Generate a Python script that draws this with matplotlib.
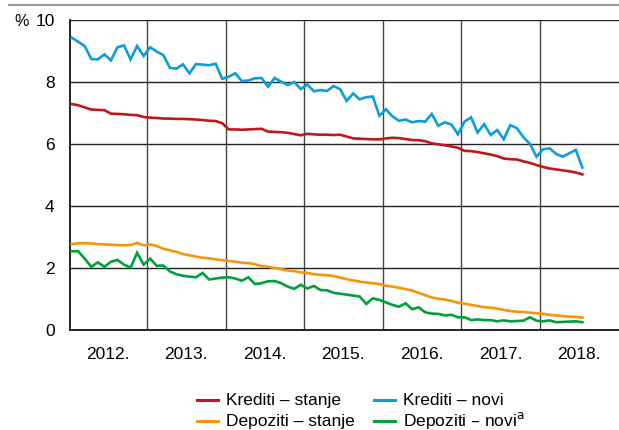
import numpy as np
import matplotlib
matplotlib.use("Agg")
import matplotlib.pyplot as plt
from matplotlib.lines import Line2D

plt.rcParams['font.family'] = ['Liberation Sans', 'DejaVu Sans']

# monthly series, Jan 2012 - Jul 2018 (%)
krediti_stanje = [7.29, 7.25, 7.18, 7.11, 7.10, 7.09, 6.98, 6.97, 6.96, 6.94, 6.93, 6.87,
                  6.85, 6.84, 6.82, 6.82, 6.81, 6.81, 6.80, 6.79, 6.77, 6.75, 6.74, 6.67,
                  6.47, 6.47, 6.46, 6.47, 6.48, 6.49, 6.40, 6.39, 6.38, 6.36, 6.32, 6.28,
                  6.33, 6.31, 6.30, 6.30, 6.29, 6.30, 6.24, 6.18, 6.17, 6.16, 6.15, 6.15,
                  6.18, 6.20, 6.19, 6.16, 6.13, 6.12, 6.09, 6.02, 5.99, 5.96, 5.92, 5.88,
                  5.78, 5.77, 5.74, 5.70, 5.66, 5.61, 5.53, 5.51, 5.50, 5.44, 5.39, 5.32,
                  5.26, 5.21, 5.18, 5.15, 5.12, 5.08, 5.02]
krediti_novi = [9.43, 9.30, 9.16, 8.74, 8.73, 8.89, 8.70, 9.12, 9.18, 8.73, 9.16, 8.84,
                9.12, 8.98, 8.87, 8.46, 8.43, 8.57, 8.28, 8.58, 8.56, 8.54, 8.59, 8.10,
                8.17, 8.28, 8.03, 8.05, 8.12, 8.13, 7.85, 8.13, 8.01, 7.90, 8.00, 7.77,
                7.92, 7.70, 7.74, 7.71, 7.87, 7.77, 7.39, 7.63, 7.44, 7.51, 7.53, 6.91,
                7.12, 6.89, 6.75, 6.79, 6.70, 6.74, 6.72, 6.97, 6.59, 6.70, 6.63, 6.31,
                6.72, 6.86, 6.37, 6.64, 6.29, 6.45, 6.15, 6.61, 6.51, 6.22, 6.00, 5.59,
                5.83, 5.86, 5.68, 5.59, 5.70, 5.81, 5.24]
depoziti_stanje = [2.77, 2.80, 2.80, 2.79, 2.77, 2.76, 2.75, 2.74, 2.73, 2.74, 2.81, 2.73,
                   2.76, 2.71, 2.62, 2.57, 2.52, 2.45, 2.41, 2.37, 2.33, 2.31, 2.28, 2.25,
                   2.23, 2.20, 2.17, 2.16, 2.12, 2.06, 2.04, 2.00, 1.96, 1.92, 1.90, 1.86,
                   1.84, 1.80, 1.78, 1.77, 1.74, 1.69, 1.64, 1.60, 1.56, 1.53, 1.51, 1.48,
                   1.43, 1.40, 1.36, 1.32, 1.27, 1.20, 1.12, 1.05, 1.01, 0.98, 0.94, 0.88,
                   0.85, 0.81, 0.77, 0.74, 0.72, 0.69, 0.65, 0.61, 0.59, 0.58, 0.56, 0.54,
                   0.52, 0.49, 0.47, 0.45, 0.43, 0.42, 0.40]
depoziti_novi = [2.54, 2.54, 2.30, 2.04, 2.18, 2.04, 2.20, 2.26, 2.11, 2.01, 2.49, 2.11,
                 2.30, 2.07, 2.08, 1.89, 1.80, 1.75, 1.72, 1.70, 1.84, 1.63, 1.66, 1.69,
                 1.70, 1.66, 1.59, 1.70, 1.48, 1.51, 1.57, 1.58, 1.51, 1.40, 1.33, 1.46,
                 1.34, 1.42, 1.29, 1.28, 1.20, 1.17, 1.14, 1.11, 1.08, 0.84, 1.02, 0.97,
                 0.89, 0.81, 0.75, 0.86, 0.67, 0.73, 0.57, 0.53, 0.52, 0.47, 0.49, 0.41,
                 0.41, 0.32, 0.34, 0.32, 0.32, 0.28, 0.31, 0.28, 0.29, 0.30, 0.41, 0.30,
                 0.28, 0.31, 0.25, 0.26, 0.27, 0.28, 0.25]

years = ['2012.', '2013.', '2014.', '2015.', '2016.', '2017.', '2018.']
labels = ['Krediti – stanje', 'Krediti – novi', 'Depoziti – stanje', 'Depoziti – novi$^{\\mathrm{a}}$']
colors = ['#c0161c', '#0a9fdb', '#f7940a', '#00a03c']

months = np.arange(len(krediti_stanje))

W, H = 619, 430
fig = plt.figure(figsize=(W / 100, H / 100), dpi=100)
ax = fig.add_axes([70 / W, 1 - 330 / H, 1 - 70 / W, 310 / H])

series = [krediti_stanje, krediti_novi, depoziti_stanje, depoziti_novi]
for vals, c, lab in zip(series, colors, labels):
    ax.plot(months, vals, color=c, lw=1.9, solid_joinstyle='miter', zorder=3)

ax.set_xlim(-0.25, 83.6)
ax.set_ylim(0, 10)
ax.set_yticks([0, 2, 4, 6, 8, 10])
ax.tick_params(axis='y', length=0, pad=11, labelsize=12.5)

# year boundaries as gridlines, labels centred in each year
for k in range(1, len(years)):
    ax.axvline(12 * k - 0.5, color='#444444', lw=1.0, zorder=1)
for y in [2, 4, 6, 8, 10]:
    ax.axhline(y, color='#222222', lw=1.0, zorder=1)
ax.set_xticks([12 * k + 5.5 for k in range(len(years))])
ax.set_xticklabels(years)
ax.tick_params(axis='x', length=0, pad=12, labelsize=12.5)

for s in ['top', 'right']:
    ax.spines[s].set_visible(False)
for s in ['left', 'bottom']:
    ax.spines[s].set_linewidth(1.3)
    ax.spines[s].set_color('#111111')

fig.text(14 / W, 1 - 21 / H, '%', fontsize=11.5, va='center', ha='left')
fig.add_artist(Line2D([9 / W, 1.0], [1 - 5 / H, 1 - 5 / H], color='#9a9a9a', lw=1.5))

# legend drawn by hand so both columns share the same rows
slots = [(197, 400), (374, 400), (197, 421), (374, 421)]
for (lx, ly), c, lab in zip(slots, colors, labels):
    fig.add_artist(Line2D([lx / W, (lx + 21) / W], [1 - ly / H, 1 - ly / H], color=c, lw=2.2))
    fig.text((lx + 29) / W, 1 - (ly + 5) / H, lab, fontsize=12.5, ha='left', va='baseline')

fig.savefig('out.png', dpi=100)
